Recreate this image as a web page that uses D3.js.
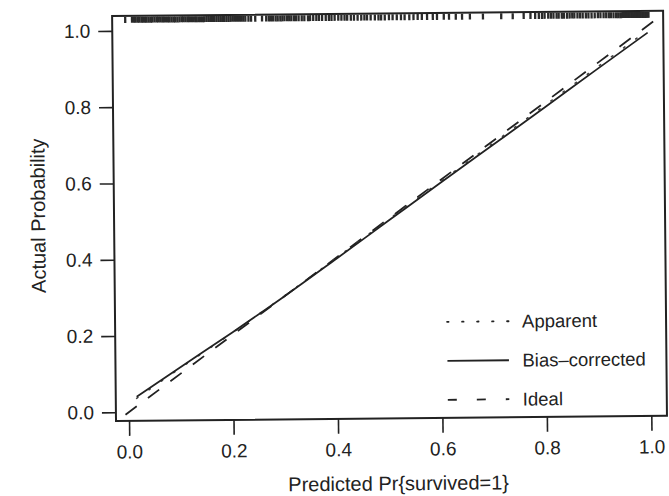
<!DOCTYPE html>
<html>
<head>
<meta charset="utf-8">
<script src="https://cdn.jsdelivr.net/npm/d3@7"></script>
<style>
  body { margin: 0; background: #fff; }
  text { font-family: "Liberation Sans", Arial, sans-serif; fill: #222; }
</style>
</head>
<body>
<div id="chart"></div>
<script>
// Calibration plot: apparent vs bias-corrected vs ideal

const width = 669, height = 496,
    box = ({ left: 116, right: 667, top: 16, bottom: 421 });

// predicted probabilities where the curves are evaluated
const predicted = [0.015, 0.1, 0.2, 0.3, 0.4, 0.5, 0.6, 0.7, 0.8, 0.9, 1.0];
const biasCorrected = [0.040, 0.117, 0.207, 0.300, 0.397, 0.495, 0.593, 0.690, 0.787, 0.885, 0.982];
const apparent = [0.036, 0.115, 0.206, 0.301, 0.399, 0.498, 0.596, 0.694, 0.792, 0.890, 0.988];
const ideal = [-0.05, 1.05];

const ticks = [0, 0.2, 0.4, 0.6, 0.8, 1.0];

// rug of predicted values along the top
const rug = [0.0, 0.013, 0.017, 0.02, 0.024, 0.027, 0.031, 0.034, 0.038, 0.041, 0.045, 0.049,
  0.052, 0.056, 0.06, 0.063, 0.067, 0.071, 0.074, 0.078, 0.082, 0.085, 0.089, 0.093, 0.096,
  0.1, 0.104, 0.108, 0.111, 0.115, 0.119, 0.122, 0.126, 0.13, 0.134, 0.137, 0.141, 0.145,
  0.149, 0.152, 0.156, 0.16, 0.164, 0.168, 0.171, 0.175, 0.179, 0.183, 0.187, 0.19, 0.194,
  0.198, 0.202, 0.206, 0.21, 0.214, 0.218, 0.222, 0.226, 0.23, 0.236, 0.241, 0.249, 0.262,
  0.27, 0.275, 0.279, 0.283, 0.288, 0.292, 0.297, 0.301, 0.305, 0.31, 0.314, 0.318, 0.323,
  0.327, 0.332, 0.338, 0.343, 0.35, 0.354, 0.36, 0.366, 0.371, 0.377, 0.384, 0.39, 0.395,
  0.401, 0.408, 0.414, 0.42, 0.425, 0.432, 0.438, 0.445, 0.452, 0.458, 0.463, 0.47, 0.478,
  0.485, 0.49, 0.497, 0.505, 0.512, 0.52, 0.528, 0.535, 0.544, 0.552, 0.56, 0.568, 0.578,
  0.589, 0.597, 0.61, 0.62, 0.633, 0.645, 0.66, 0.685, 0.72, 0.742, 0.763, 0.776, 0.785,
  0.792, 0.798, 0.803, 0.81, 0.815, 0.82, 0.826, 0.83, 0.836, 0.84, 0.846, 0.851, 0.856,
  0.86, 0.866, 0.871, 0.876, 0.882, 0.887, 0.893, 0.899, 0.905, 0.91, 0.916, 0.921, 0.926,
  0.93, 0.935, 0.94, 0.944, 0.948, 0.951, 0.954, 0.957, 0.96, 0.963, 0.966, 0.969, 0.972,
  0.975, 0.978, 0.981, 0.984, 0.987, 0.99, 0.993, 0.996, 0.999, 1.002];

const legendLabels = ["Apparent", "Bias\u2013corrected", "Ideal"];
const legendDash = ["1.5 13.5", null, "9 20"];

const svg = d3.select("#chart")
  .append("svg")
  .attr("width", width)
  .attr("height", height)
  .attr("viewBox", [0, 0, width, height]);

// the scanned page is slightly rotated
const g = svg.append("g")
  .attr("transform", `rotate(-0.55, ${box.left}, ${box.bottom})`);

const x = d3.scaleLinear()
  .domain([-0.025, 1.03])
  .range([box.left, box.right]);

const y = d3.scaleLinear()
  .domain([-0.023, 1.039])
  .range([box.bottom, box.top]);

g.append("defs").append("clipPath").attr("id", "clip")
  .append("rect")
  .attr("x", box.left).attr("y", box.top)
  .attr("width", box.right - box.left).attr("height", box.bottom - box.top);

// axes
const xAxis = g.append("g")
  .attr("transform", `translate(0,${box.bottom})`)
  .call(d3.axisBottom(x).tickValues(ticks).tickFormat(d3.format(".1f"))
    .tickSize(15).tickPadding(9).tickSizeOuter(0));

const yAxis = g.append("g")
  .attr("transform", `translate(${box.left},0)`)
  .call(d3.axisLeft(y).tickValues(ticks).tickFormat(d3.format(".1f"))
    .tickSize(14).tickPadding(8).tickSizeOuter(0));

[xAxis, yAxis].forEach(a => {
  a.select(".domain").remove();
  a.selectAll(".tick line").attr("stroke", "#222").attr("stroke-width", 1.6);
  a.selectAll(".tick text").attr("font-size", 19).attr("fill", "#222")
    .style("font-family", "'Liberation Sans', Arial, sans-serif");
});

// frame
g.append("rect")
  .attr("x", box.left).attr("y", box.top)
  .attr("width", box.right - box.left).attr("height", box.bottom - box.top)
  .attr("fill", "none")
  .attr("stroke", "#222")
  .attr("stroke-width", 2);

// rug
g.append("g")
  .selectAll("line")
  .data(rug)
  .join("line")
  .attr("x1", d => x(d)).attr("x2", d => x(d))
  .attr("y1", box.top + 1).attr("y2", box.top + 7)
  .attr("stroke", "#2a2a2a")
  .attr("stroke-width", 2.3);

const plot = g.append("g").attr("clip-path", "url(#clip)");

const line = d3.line()
  .x(d => x(d[0]))
  .y(d => y(d[1]));

plot.append("path")
  .datum(ideal.map(v => [v, v]))
  .attr("d", line)
  .attr("fill", "none")
  .attr("stroke", "#222")
  .attr("stroke-width", 1.8)
  .attr("stroke-dasharray", "14 14");

plot.append("path")
  .datum(predicted.map((p, i) => [p, apparent[i]]))
  .attr("d", line.curve(d3.curveMonotoneX))
  .attr("fill", "none")
  .attr("stroke", "#444")
  .attr("stroke-width", 1.6)
  .attr("stroke-linecap", "round")
  .attr("stroke-dasharray", legendDash[0]);

plot.append("path")
  .datum(predicted.map((p, i) => [p, biasCorrected[i]]))
  .attr("d", line.curve(d3.curveMonotoneX))
  .attr("fill", "none")
  .attr("stroke", "#222")
  .attr("stroke-width", 1.8);

// legend
const legend = g.append("g")
  .selectAll("g")
  .data(legendLabels)
  .join("g")
  .attr("transform", (d, i) => `translate(448,${325 + i * 39})`);

legend.append("line")
  .attr("x1", 0).attr("x2", 61.5)
  .attr("stroke", "#222")
  .attr("stroke-width", 1.8)
  .attr("stroke-linecap", (d, i) => i === 0 ? "round" : "butt")
  .attr("stroke-dasharray", (d, i) => legendDash[i]);

legend.append("text")
  .attr("x", 75)
  .attr("dy", "0.35em")
  .attr("font-size", 18.5)
  .text(d => d);

// axis titles
g.append("text")
  .attr("x", 398)
  .attr("y", 493)
  .attr("text-anchor", "middle")
  .attr("font-size", 20)
  .text("Predicted Pr{survived=1}");

g.append("text")
  .attr("transform", "translate(47,215) rotate(-90)")
  .attr("text-anchor", "middle")
  .attr("font-size", 20)
  .text("Actual Probability");
</script>
</body>
</html>
